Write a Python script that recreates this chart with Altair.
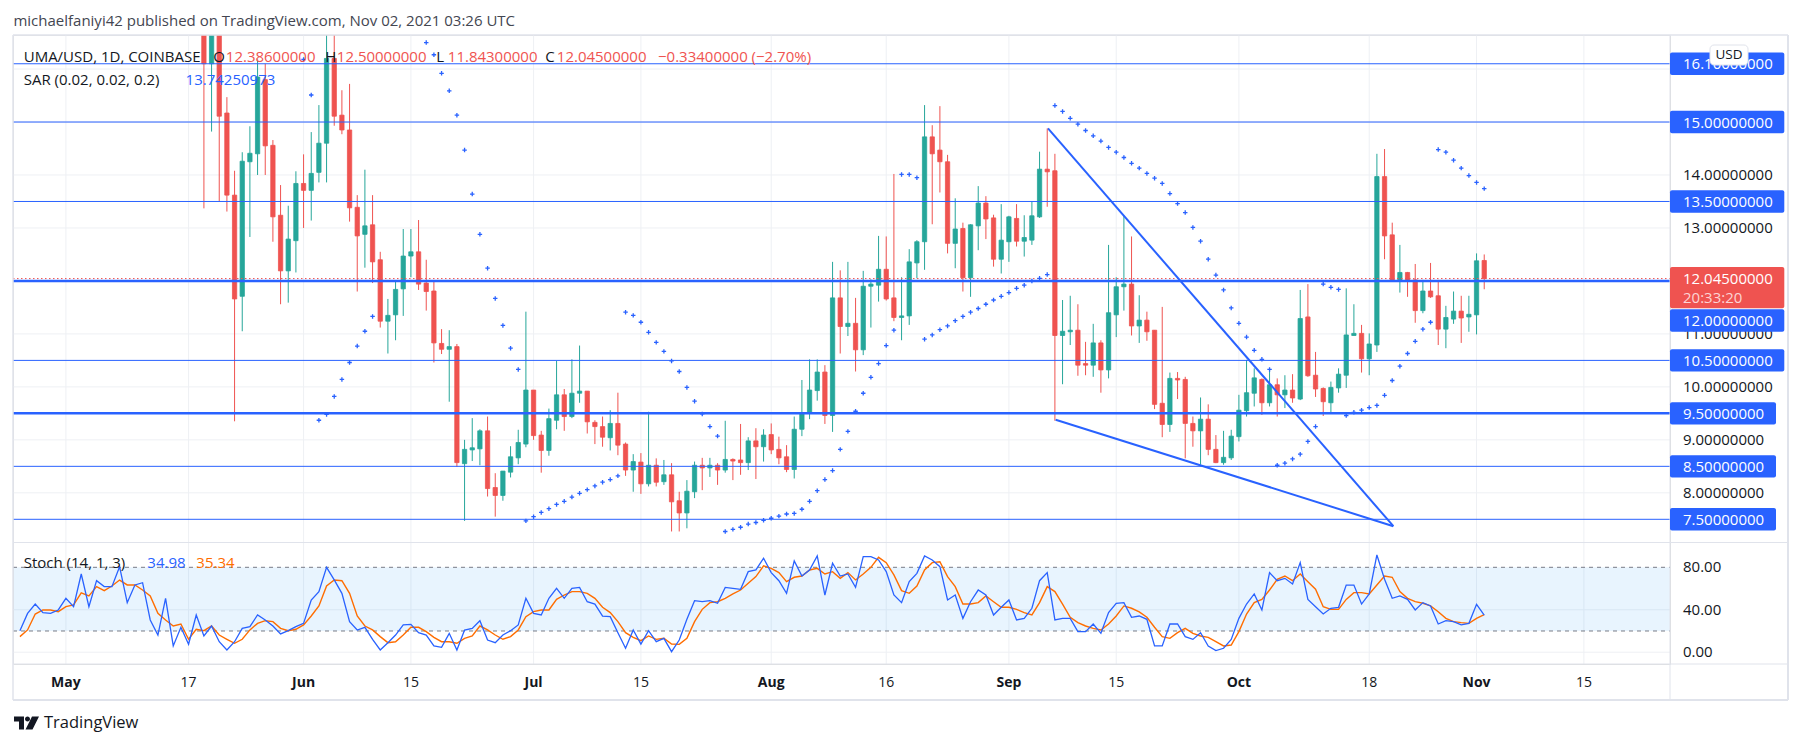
import altair as alt
import pandas as pd
import numpy as np

# ---------------- data ----------------
# day index: 0 = 1 May 2021
candle_day = list(range(18, 186))
opens = [18.5, 16.10, 17.30, 15.17, 13.62, 11.71, 14.25, 14.40, 15.80, 14.56,
         13.24, 12.19, 12.76, 13.84, 13.71, 14.05, 14.60, 16.20, 15.13, 14.85,
         13.39, 12.88, 13.06, 12.40, 11.24, 11.36, 11.85, 12.47, 12.55, 11.96,
         11.81, 10.82, 10.71, 10.76, 8.55, 8.81, 8.83, 9.17, 8.10, 7.95,
         8.39, 8.66, 8.92, 9.94, 9.09, 8.80, 9.37, 9.85, 9.44, 9.88,
         9.92, 9.33, 9.25, 9.04, 9.31, 8.92, 8.43, 8.58, 8.17, 8.52,
         8.21, 8.34, 7.85, 7.62, 8.02, 8.52, 8.47, 8.52, 8.43, 8.63,
         8.62, 8.57, 8.98, 8.87, 9.10, 8.82, 8.68, 8.44, 9.20, 9.51,
         9.93, 10.28, 9.46, 11.68, 11.14, 11.20, 10.70, 11.90, 11.92, 12.22,
         11.68, 11.31, 11.34, 12.34, 12.74, 14.72, 14.47, 14.25, 12.71, 12.99,
         12.06, 13.04, 13.47, 13.19, 12.41, 12.74, 13.18, 12.75, 12.77, 13.21,
         14.11, 14.08, 10.97, 11.04, 11.07, 10.44, 10.41, 10.83, 10.32, 11.36,
         11.89, 11.94, 11.15, 11.26, 11.07, 9.69, 9.29, 10.16, 10.14, 9.31,
         9.17, 9.39, 8.82, 8.57, 8.66, 9.06, 9.55, 9.88, 10.14, 9.70,
         10.04, 9.85, 9.94, 9.77, 11.32, 10.22, 9.97, 9.70, 9.98, 10.22,
         10.97, 11.01, 10.53, 10.79, 13.97, 12.87, 12.00, 12.16, 12.02, 11.44,
         11.81, 11.72, 11.09, 11.28, 11.43, 11.32, 11.36, 12.386]
highs = [19.2, 17.5, 17.6, 15.47, 14.08, 14.43, 14.92, 16.20, 16.10, 14.66,
         13.81, 13.42, 14.07, 14.39, 14.81, 15.32, 16.90, 16.80, 15.60, 15.72,
         13.62, 14.10, 13.62, 12.55, 11.66, 11.99, 12.98, 12.98, 13.15, 12.40,
         11.99, 11.09, 11.07, 10.81, 9.00, 9.41, 9.20, 9.44, 8.37, 8.41,
         8.88, 9.19, 11.42, 9.94, 9.17, 9.59, 10.49, 9.96, 10.52, 10.78,
         9.92, 9.37, 9.44, 9.56, 9.89, 8.95, 8.73, 8.75, 9.53, 8.65,
         8.62, 8.56, 8.02, 8.24, 8.59, 8.66, 8.66, 8.56, 9.36, 8.65,
         9.30, 9.05, 9.22, 9.20, 9.31, 9.06, 8.90, 9.44, 10.13, 10.52,
         10.52, 10.41, 12.36, 12.20, 12.36, 11.68, 12.19, 12.03, 12.85, 12.84,
         14.02, 12.07, 12.60, 12.77, 15.32, 14.94, 15.30, 14.38, 13.56, 13.10,
         13.07, 13.79, 13.60, 13.25, 13.45, 13.23, 13.45, 13.24, 13.50, 14.44,
         14.88, 14.40, 11.64, 11.72, 11.56, 10.85, 11.19, 10.88, 12.68, 12.07,
         13.24, 12.84, 11.73, 11.42, 11.07, 11.51, 10.27, 10.28, 10.19, 9.44,
         9.80, 9.67, 9.09, 9.17, 9.19, 9.85, 10.51, 10.35, 10.16, 10.35,
         10.16, 10.22, 10.24, 11.83, 11.94, 10.66, 9.99, 10.10, 10.35, 11.86,
         11.56, 11.17, 11.01, 14.40, 14.49, 13.10, 12.68, 12.17, 12.32, 12.02,
         12.34, 12.02, 11.53, 11.80, 11.72, 11.72, 12.52, 12.50]
lows = [13.37, 14.82, 13.50, 13.31, 9.35, 11.05, 12.83, 14.00, 14.00, 12.74,
        11.56, 11.59, 12.16, 13.00, 13.14, 13.86, 13.86, 14.93, 14.77, 13.12,
        11.80, 12.25, 11.96, 11.12, 10.63, 10.88, 11.34, 12.07, 11.83, 11.44,
        10.46, 10.62, 9.72, 8.49, 7.47, 8.60, 8.52, 7.93, 7.55, 7.85,
        8.29, 8.54, 8.86, 9.00, 8.38, 8.70, 9.20, 9.17, 9.41, 9.70,
        9.12, 8.92, 8.87, 8.80, 8.71, 8.32, 8.02, 7.98, 8.12, 8.12,
        8.15, 7.27, 7.27, 7.33, 7.90, 8.05, 8.30, 8.15, 8.38, 8.24,
        8.34, 8.43, 8.26, 8.59, 8.73, 8.54, 8.39, 8.27, 9.07, 9.39,
        9.74, 9.30, 9.15, 10.63, 10.96, 10.29, 10.60, 11.12, 11.61, 11.63,
        11.24, 10.88, 11.17, 12.05, 12.21, 13.07, 13.67, 12.52, 12.24, 11.80,
        11.70, 12.58, 12.79, 12.27, 12.14, 12.36, 12.65, 12.46, 12.68, 13.19,
        13.40, 9.36, 10.05, 10.79, 10.21, 10.22, 10.19, 9.89, 10.16, 10.94,
        11.44, 10.97, 10.83, 10.87, 9.58, 9.05, 9.15, 9.77, 8.65, 8.87,
        8.53, 8.71, 8.56, 8.53, 8.62, 8.97, 9.44, 9.63, 9.47, 9.63,
        9.44, 9.60, 9.70, 9.75, 10.19, 9.81, 9.45, 9.51, 9.89, 9.98,
        10.97, 10.27, 10.22, 10.66, 12.41, 12.00, 11.78, 11.70, 11.21, 11.39,
        11.68, 10.79, 10.73, 11.19, 10.83, 11.04, 10.99, 11.843]
closes = [16.10, 17.30, 15.11, 13.62, 11.66, 14.26, 14.41, 15.85, 14.55, 13.21,
          12.19, 12.79, 13.84, 13.71, 14.03, 14.60, 16.20, 15.11, 14.85, 13.38,
          12.85, 13.04, 12.36, 11.24, 11.35, 11.84, 12.47, 12.55, 11.94, 11.80,
          10.83, 10.71, 10.76, 8.57, 8.82, 8.85, 9.17, 8.08, 7.95, 8.41,
          8.68, 8.95, 9.94, 9.08, 8.80, 9.40, 9.85, 9.44, 9.88, 9.92,
          9.34, 9.25, 9.05, 9.31, 8.90, 8.43, 8.59, 8.17, 8.52, 8.20,
          8.34, 7.83, 7.62, 8.03, 8.52, 8.47, 8.52, 8.43, 8.63, 8.60,
          8.57, 8.98, 8.87, 9.09, 8.81, 8.66, 8.44, 9.20, 9.50, 9.94,
          10.28, 9.46, 11.68, 11.14, 11.20, 10.70, 11.90, 11.94, 12.22, 11.66,
          11.31, 11.34, 12.36, 12.74, 14.72, 14.40, 14.25, 12.71, 12.98, 12.06,
          13.06, 13.47, 13.17, 12.41, 12.77, 13.21, 12.75, 12.82, 13.23, 14.11,
          14.06, 10.97, 11.05, 11.07, 10.41, 10.41, 10.83, 10.32, 11.40, 11.89,
          11.94, 11.15, 11.26, 11.04, 9.67, 9.29, 10.16, 10.13, 9.31, 9.17,
          9.39, 8.82, 8.57, 8.67, 9.07, 9.56, 9.89, 10.17, 9.70, 10.04,
          9.85, 9.94, 9.79, 11.29, 10.21, 9.96, 9.72, 9.99, 10.24, 10.98,
          11.01, 10.53, 10.81, 13.97, 12.85, 12.00, 12.16, 12.00, 11.44, 11.81,
          11.70, 11.09, 11.31, 11.43, 11.30, 11.37, 12.38, 12.045]

sar_day = [31, 32, 33, 34, 35, 36, 37, 38, 39, 40,
           47, 48, 49, 50, 51, 52, 53, 54, 55, 56, 57, 58, 59,
           60, 61, 62, 63, 64, 65, 66, 67, 68, 69, 70, 71, 72,
           73, 74, 75, 76, 77, 78, 79, 80, 81, 82, 83, 84, 85,
           86, 87, 88, 89, 90, 91, 92, 93, 94, 95, 96, 97, 98, 99, 100,
           101, 102, 103, 104, 105, 106, 107, 108,
           109, 110, 111,
           112, 113, 114, 115, 116, 117, 118, 119, 120, 121, 122, 123, 124,
           125, 126, 127, 128,
           129, 130, 131, 132, 133, 134, 135, 136, 137, 138, 139, 140, 141,
           142, 143, 144, 145, 146, 147, 148, 149, 150, 151, 152, 153, 154,
           155, 156, 157,
           158, 159, 160, 161, 162, 163,
           164, 165, 166,
           167, 168, 169, 170, 171, 172, 173, 174, 175, 176, 177, 178,
           179, 180, 181, 182, 183, 184, 185]
sar_val = [16.18, 15.51, 9.37, 9.48, 9.82, 10.14, 10.46, 10.77, 11.05, 11.33,
           16.50, 16.27, 15.92, 15.59, 15.13, 14.47, 13.64, 12.88, 12.24, 11.67, 11.16, 10.73, 10.33,
           7.47, 7.55, 7.63, 7.70, 7.78, 7.84, 7.92, 7.99, 8.06, 8.13, 8.20, 8.25, 8.32,
           11.41, 11.35, 11.22, 11.03, 10.84, 10.67, 10.49, 10.29, 9.99, 9.73, 9.49, 9.25, 9.07,
           7.27, 7.31, 7.35, 7.41, 7.44, 7.48, 7.52, 7.56, 7.60, 7.61, 7.69, 7.84, 8.04, 8.25, 8.42,
           8.82, 9.16, 9.54, 9.88, 10.18, 10.44, 10.78, 11.07,
           14.01, 14.01, 13.95,
           10.90, 10.98, 11.08, 11.15, 11.25, 11.33, 11.41, 11.48, 11.56, 11.64, 11.71, 11.78, 11.86,
           11.92, 12.00, 12.05, 12.12,
           15.31, 15.20, 15.07, 14.96, 14.84, 14.74, 14.64, 14.52, 14.43, 14.33, 14.22, 14.13, 14.03,
           13.94, 13.84, 13.65, 13.46, 13.29, 13.01, 12.75, 12.41, 12.11, 11.83, 11.49, 11.20, 10.94,
           10.69, 10.52, 10.33,
           8.52, 8.56, 8.64, 8.73, 8.97, 9.25,
           11.94, 11.88, 11.84,
           9.46, 9.52, 9.56, 9.61, 9.65, 9.84, 10.12, 10.39, 10.63, 10.86, 11.09, 11.22,
           14.48, 14.43, 14.28, 14.13, 13.99, 13.86, 13.7425]

stoch_start_day = -6
stoch_k = [20.3, 36.6, 45.4, 37.3, 36.6, 39.8, 50.8, 42.9, 73.7, 42.9,
           67.4, 61.8, 61.8, 80.6, 46.7, 63.4, 65.5, 30.4, 16.2, 50.8,
           5.9, 23.5, 7.5, 35.1, 15.3, 24.7, 9.9, 2.1, 9.9, 22.5,
           24.1, 35.1, 30.4, 24.7, 17.2, 20.3, 24.1, 27.2, 49.2, 57.1,
           80.0, 68.1, 55.5, 28.8, 20.9, 23.5, 12.2, 2.1, 9.0, 16.2,
           25.7, 26.3, 18.4, 16.2, 5.9, 4.6, 17.8, 2.1, 20.9, 22.5,
           29.7, 11.5, 9.0, 16.2, 20.3, 25.7, 50.8, 36.6, 35.1, 50.8,
           60.2,
           50.8, 60.2, 61.1, 47.6, 45.4, 34.1, 33.5, 18.4, 3.7, 20.9,
           7.7, 20.3, 9.9, 13.1, 0.5, 11.5, 31.0, 48.6, 47.6, 48.6,
           46.1, 61.1, 60.2, 59.3, 75.9, 77.5, 88.5, 75.0, 67.4, 55.5,
           86.0, 71.8, 77.5, 90.7, 53.9, 83.8, 71.8, 73.7, 61.1, 90.0,
           90.0, 86.9, 75.9, 53.9, 46.7, 66.5, 74.3, 90.7, 86.9, 80.6,
           49.2, 53.9, 31.9, 47.6, 58.6, 53.9, 35.1, 42.3, 49.2, 30.4,
           31.9, 41.4, 67.4, 75.0, 30.4, 31.9, 31.9, 19.4, 19.4, 26.6,
           17.8, 37.3, 46.1, 46.7, 32.9, 34.1, 31.0, 5.9, 5.9, 26.6,
           26.6, 14.7, 12.1, 18.4, 5.9, 1.5, 3.7, 12.1, 31.9, 45.4,
           54.9, 39.8, 75.0, 67.4, 69.6, 64.3, 84.4, 49.8, 42.9, 36.0,
           41.4, 42.3, 63.3, 63.3, 45.4, 54.9, 91.6, 68.7, 50.8, 53.0,
           49.8, 39.8, 46.7, 43.6, 26.6, 29.7, 28.8, 25.7, 27.2, 45.1, 34.98]
stoch_d = [14.7, 21.0, 36.0, 39.8, 39.8, 38.2, 43.0, 44.5, 56.0, 53.0,
           61.8, 58.0, 62.4, 68.0, 63.4, 63.4, 58.6, 53.0, 36.6, 30.4,
           24.7, 26.6, 12.2, 21.6, 20.3, 24.7, 16.2, 12.2, 8.4, 12.2,
           21.0, 27.2, 29.7, 28.8, 22.5, 20.3, 21.6, 25.7, 34.1, 43.6,
           62.4, 68.0, 67.4, 55.5, 34.1, 24.7, 21.0, 14.7, 9.0, 9.9,
           16.2, 23.5, 23.5, 19.4, 14.0, 9.9, 9.9, 8.4, 13.1, 15.3,
           24.7, 21.0, 16.2, 12.2, 14.7, 21.0, 33.5, 38.2, 39.8, 39.8,
           49.8,
           53.9, 57.1, 57.1, 55.5, 50.8, 42.3, 37.3, 28.8, 18.4, 14.0,
           10.9, 15.3, 12.1, 13.1, 7.7, 7.4, 13.1, 28.8, 40.4, 46.7,
           47.6, 50.8, 55.0, 58.6, 64.9, 71.2, 81.3, 79.0, 75.0, 66.5,
           70.6, 71.8, 77.5, 79.0, 73.7, 75.9, 69.6, 75.0, 68.1, 73.7,
           80.0, 89.4, 84.4, 72.8, 58.0, 55.5, 62.4, 77.5, 84.4, 85.3,
           71.2, 61.8, 45.4, 45.4, 46.7, 53.0, 47.6, 42.3, 42.3, 40.4,
           37.3, 35.1, 46.7, 61.8, 57.1, 45.4, 32.9, 27.9, 24.7, 22.5,
           20.9, 26.6, 34.1, 43.6, 41.4, 38.0, 32.9, 23.5, 14.7, 13.1,
           18.4, 22.5, 17.8, 15.3, 14.0, 9.9, 5.9, 6.8, 19.4, 36.0,
           46.7, 49.8, 58.6, 68.7, 71.8, 67.4, 73.7, 66.5, 59.3, 42.9,
           40.4, 40.4, 49.8, 56.1, 56.1, 54.9, 63.3, 71.8, 70.6, 57.1,
           50.8, 47.6, 46.1, 43.6, 38.2, 31.9, 28.8, 27.9, 27.2, 31.9, 35.34]

level_prices = [16.1, 15.0, 13.5, 12.0, 10.5, 9.5, 8.5, 7.5]
level_widths = [1, 1, 1, 2.5, 1, 2.5, 1, 1]
last_price = 12.045

wedge_seg = ["upper", "upper", "lower", "lower"]
wedge_day = [128.1, 173.15, 129.1, 173.15]
wedge_price = [14.88, 7.37, 9.38, 7.37]

price_grid = [8, 9, 10, 11, 12, 13, 14, 15, 16]
price_tick_vals = [14, 13, 11, 10, 9, 8]
stoch_grid = [0, 40]
stoch_ticks = [80, 40, 0]

time_tick_day = [0, 16, 31, 45, 61, 75, 92, 107, 123, 137, 153, 170, 184, 198]
time_tick_lab = ["May", "17", "Jun", "15", "Jul", "15", "Aug", "16", "Sep", "15", "Oct", "18", "Nov", "15"]
time_tick_month = [True, False, True, False, True, False, True, False, True, False, True, False, True, False]

# ---------------- style / layout ----------------
FONT = "Open Sans"
UP, DOWN, BLUE, ORANGE = "#26a69a", "#ef5350", "#2962ff", "#ff6d00"
TXT, GRID, FRAME = "#131722", "#eef0f4", "#e0e3eb"
PW, PH = 1657, 629          # plot area (price pane + stoch pane)
PRICE_H = 507.5
xs = alt.Scale(domain=[-6.249, 208.58], nice=False, zero=False)
ps = alt.Scale(domain=[7.062, 16.643], range=[PRICE_H, 0], nice=False, zero=False)
ss = alt.Scale(domain=[-11.1, 102.9], range=[PH, 508], nice=False, zero=False)

one = pd.DataFrame({"a": [0]})


def X(f):
    return alt.X(f, type="quantitative", scale=xs, axis=None)


def PY(f):
    return alt.Y(f, type="quantitative", scale=ps, axis=None)


def SY(f):
    return alt.Y(f, type="quantitative", scale=ss, axis=None)


def txt(s, x, y, color=TXT, size=15, weight="normal", align="left"):
    return alt.Chart(one).mark_text(align=align, baseline="middle", font=FONT, fontSize=size,
                                    fontWeight=weight, color=color).encode(
        x=alt.value(x), y=alt.value(y), text=alt.value(s))


def hline(x1, x2, y, color=FRAME, w=1):
    return alt.Chart(one).mark_rule(color=color, strokeWidth=w).encode(
        x=alt.value(x1), x2=alt.value(x2), y=alt.value(y))


def vline(x, y1, y2, color=FRAME, w=1):
    return alt.Chart(one).mark_rule(color=color, strokeWidth=w).encode(
        x=alt.value(x), y=alt.value(y1), y2=alt.value(y2))


layers = []

# grid
tdf = pd.DataFrame({"d": time_tick_day, "lab": time_tick_lab, "m": time_tick_month})
layers.append(alt.Chart(tdf).mark_rule(color=GRID).encode(x=X("d"), y=alt.value(0), y2=alt.value(PH)))
layers.append(alt.Chart(pd.DataFrame({"p": price_grid})).mark_rule(color=GRID).encode(
    y=PY("p"), x=alt.value(0), x2=alt.value(PW)))
layers.append(alt.Chart(pd.DataFrame({"v": stoch_grid})).mark_rule(color=GRID).encode(
    y=SY("v"), x=alt.value(0), x2=alt.value(PW)))

# stochastic pane
layers.append(alt.Chart(pd.DataFrame({"hi": [80], "lo": [20]})).mark_rect(color="#2196f3", opacity=0.1).encode(
    y=SY("hi"), y2="lo:Q", x=alt.value(0), x2=alt.value(PW)))
layers.append(alt.Chart(pd.DataFrame({"v": [80, 20]})).mark_rule(color="#787b86", strokeDash=[4, 4]).encode(
    y=SY("v"), x=alt.value(0), x2=alt.value(PW)))
stdf = pd.DataFrame({"d": list(range(stoch_start_day, stoch_start_day + len(stoch_k))), "k": stoch_k, "dd": stoch_d})
layers.append(alt.Chart(stdf).mark_line(color=ORANGE, strokeWidth=1.4, clip=True).encode(x=X("d"), y=SY("dd")))
layers.append(alt.Chart(stdf).mark_line(color=BLUE, strokeWidth=1.3, clip=True).encode(x=X("d"), y=SY("k")))

# candles
cdf = pd.DataFrame({"d": candle_day, "o": opens, "h": highs, "l": lows, "c": closes})
cdf["dir"] = np.where(cdf["c"] >= cdf["o"], "up", "down")
cscale = alt.Scale(domain=["up", "down"], range=[UP, DOWN])
layers.append(alt.Chart(cdf).mark_rule(strokeWidth=1, clip=True).encode(
    x=X("d"), y=PY("l"), y2="h:Q", color=alt.Color("dir:N", scale=cscale, legend=None)))
layers.append(alt.Chart(cdf).mark_bar(size=4.3, strokeWidth=0.8, clip=True).encode(
    x=X("d"), y=PY("o"), y2="c:Q",
    color=alt.Color("dir:N", scale=cscale, legend=None),
    stroke=alt.Stroke("dir:N", scale=cscale, legend=None)))

# current price line and horizontal levels
layers.append(alt.Chart(pd.DataFrame({"p": [last_price]})).mark_rule(color=DOWN, strokeDash=[1.5, 2.5]).encode(
    y=PY("p"), x=alt.value(0), x2=alt.value(PW)))
layers.append(alt.Chart(pd.DataFrame({"p": level_prices, "w": level_widths})).mark_rule(color=BLUE).encode(
    y=PY("p"), x=alt.value(0), x2=alt.value(PW),
    strokeWidth=alt.StrokeWidth("w:Q", scale=None, legend=None)))

# parabolic SAR
layers.append(alt.Chart(pd.DataFrame({"d": sar_day, "s": sar_val})).mark_point(
    shape="M-1,0L1,0M0,-1L0,1", size=20, strokeWidth=1.3, filled=False, color=BLUE, opacity=1, clip=True).encode(
    x=X("d"), y=PY("s")))

# wedge drawing
layers.append(alt.Chart(pd.DataFrame({"seg": wedge_seg, "d": wedge_day, "p": wedge_price})).mark_line(
    color=BLUE, strokeWidth=2, clip=True).encode(x=X("d"), y=PY("p"), detail="seg:N"))

# frame / separators
layers += [
    hline(0, 1775, 0, w=1.5), hline(0, 1775, 665, w=2), vline(0, 0, 665, w=1.5), vline(1775, 0, 665, w=2),
    vline(PW, 0, 665), hline(0, 1775, PRICE_H), hline(0, 1775, PH),
]

# time axis labels
layers.append(alt.Chart(tdf[tdf["m"]]).mark_text(font=FONT, fontSize=14, fontWeight="bold", color=TXT,
                                                 baseline="middle").encode(x=X("d"), y=alt.value(648.3), text="lab:N"))
layers.append(alt.Chart(tdf[~tdf["m"]]).mark_text(font=FONT, fontSize=14, color=TXT,
                                                  baseline="middle").encode(x=X("d"), y=alt.value(648.3), text="lab:N"))

# right price axis
pt = pd.DataFrame({"p": price_tick_vals, "t": ["%.8f" % v for v in price_tick_vals]})
layers.append(alt.Chart(pt).mark_text(align="left", baseline="middle", font=FONT, fontSize=15, color=TXT).encode(
    x=alt.value(1670), y=PY("p"), text="t:N"))
st = pd.DataFrame({"v": stoch_ticks, "t": ["%.2f" % v for v in stoch_ticks]})
layers.append(alt.Chart(st).mark_text(align="left", baseline="middle", font=FONT, fontSize=15, color=TXT).encode(
    x=alt.value(1670), y=SY("v"), text="t:N"))


def level_boxes(prices, right, shift=0.0):
    df = pd.DataFrame({"p": prices, "t": ["%.8f" % v for v in prices]})
    box = alt.Chart(df).mark_rect(color=BLUE, cornerRadius=2, yOffset=-11.2 + shift, y2Offset=11.2 + shift).encode(
        x=alt.value(PW), x2=alt.value(right), y=PY("p"), y2="p:Q")
    lab = alt.Chart(df).mark_text(align="left", baseline="middle", font=FONT, fontSize=15, color="white",
                                  dy=shift + 0.5).encode(x=alt.value(1670), y=PY("p"), text="t:N")
    return [box, lab]


layers += level_boxes([16.1, 15.0, 13.5, 10.5], 1771.3)
layers += level_boxes([9.5, 8.5, 7.5], 1763)
layers += level_boxes([12.0], 1771.3, shift=39.6)

# last price label (red)
lp = pd.DataFrame({"p": [last_price]})
layers.append(alt.Chart(lp).mark_rect(color=DOWN, cornerRadius=2, yOffset=-11.5, y2Offset=29.8).encode(
    x=alt.value(PW), x2=alt.value(1771.3), y=PY("p"), y2="p:Q"))
layers.append(alt.Chart(lp).mark_text(align="left", baseline="middle", font=FONT, fontSize=15, color="white",
                                      dy=0.8).encode(x=alt.value(1670), y=PY("p"), text=alt.value("12.04500000")))
layers.append(alt.Chart(lp).mark_text(align="left", baseline="middle", font=FONT, fontSize=15, color="#fcd4d4",
                                      dy=19.8).encode(x=alt.value(1670), y=PY("p"), text=alt.value("20:33:20")))

# USD badge
layers.append(alt.Chart(one).mark_rect(fill="white", stroke=FRAME, strokeWidth=1, cornerRadius=4).encode(
    x=alt.value(1697), x2=alt.value(1735), y=alt.value(10), y2=alt.value(30)))
layers.append(txt("USD", 1716, 20, size=13.5, align="center"))

# header / legends
layers += [
    txt("michaelfaniyi42 published on TradingView.com, Nov 02, 2021 03:26 UTC", 0.4, -14.3, color="#434651"),
    txt("UMA/USD, 1D, COINBASE", 10.7, 21.7),
    txt("O", 200.2, 21.7), txt("12.38600000", 212.8, 21.7, color=DOWN),
    txt("H", 312.3, 21.7), txt("12.50000000", 323.8, 21.7, color=DOWN),
    txt("L", 423.3, 21.7), txt("11.84300000", 434.8, 21.7, color=DOWN),
    txt("C", 532.3, 21.7), txt("12.04500000", 543.8, 21.7, color=DOWN),
    txt("\u22120.33400000 (\u22122.70%)", 645, 21.7, color=DOWN),
    txt("SAR (0.02, 0.02, 0.2)", 10.7, 45), txt("13.74250973", 172.6, 45, color=BLUE),
    txt("Stoch (14, 1, 3)", 10.7, 528.3), txt("34.98", 134.3, 528.3, color=BLUE),
    txt("35.34", 183.3, 528.3, color=ORANGE),
]

# TradingView logo
logo_path = ("M-1,-0.52L-0.2,-0.52L-0.2,0.52L-0.6,0.52L-0.6,-0.12L-1,-0.12Z"
             "M-0.12,-0.32A0.2,0.2 0 1,0 0.28,-0.32A0.2,0.2 0 1,0 -0.12,-0.32Z"
             "M-0.08,0.52L0.44,-0.52L1,-0.52L0.48,0.52Z")
layers.append(alt.Chart(one).mark_point(shape=logo_path, size=625, filled=True, color=TXT, opacity=1,
                                        strokeWidth=0).encode(x=alt.value(13.5), y=alt.value(688)))
layers.append(txt("TradingView", 31, 688, size=16.5, weight=500))

chart = alt.layer(*layers).resolve_scale(y="independent").properties(
    width=PW, height=PH,
    padding={"left": 13, "top": 35, "right": 131, "bottom": 83},
    autosize=alt.AutoSizeParams(type="none"),
    background="white",
).configure_view(stroke=None).configure(font=FONT)

chart.save("out.html", embed_options={"renderer": "svg", "actions": False})
